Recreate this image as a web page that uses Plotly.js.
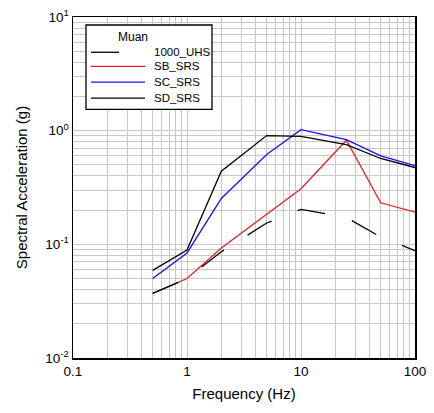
<!DOCTYPE html>
<html><head><meta charset="utf-8">
<script src="https://cdn.plot.ly/plotly-3.0.1.min.js"></script>
<style>html,body{margin:0;padding:0;background:#fff;}#chart{width:434px;height:413px;}</style>
</head><body><div id="chart"></div>
<script>
var freq = [0.5, 1, 2, 5, 10, 25, 50, 100];
var uhs1000 = [0.037, 0.050, 0.086, 0.154, 0.203, 0.172, 0.116, 0.088];
var sbSRS = [0.037, 0.050, 0.093, 0.183, 0.308, 0.824, 0.232, 0.192];
var scSRS = [0.050, 0.084, 0.253, 0.617, 1.02, 0.835, 0.600, 0.493];
var sdSRS = [0.059, 0.089, 0.44, 0.906, 0.89, 0.755, 0.569, 0.474];
var seriesNames = ['1000_UHS', 'SB_SRS', 'SC_SRS', 'SD_SRS'];
var xTickVals = [0.1, 1, 10, 100];
var xTickText = ['0.1', '1', '10', '100'];
var yTickVals = [0.01, 0.1, 1, 10];
var yTickText = ['10<sup>-2</sup>', '10<sup>-1</sup>', '10<sup>0</sup>', '10<sup>1</sup>'];
var legendTitle = 'Muan';

var colors = ['#000000', 'rgb(232,32,40)', 'rgb(20,20,240)', '#000000'];
var dashes = ['28px,28px', 'solid', 'solid', 'solid'];
var ys = [uhs1000, sbSRS, scSRS, sdSRS];
var drawOrder = [1, 2, 3, 0];

var traces = drawOrder.map(function(i){
  return {x: freq, y: ys[i], type: 'scatter', mode: 'lines', name: seriesNames[i],
    line: {color: colors[i], width: 1.3, dash: dashes[i]}, showlegend: false};
});

var FONT = 'Liberation Sans, Arial, sans-serif';
// custom legend (paper coordinates)
var L = 73, T = 17, W = 342, H = 341.5;
function px(x){ return (x - L) / W; }
function py(y){ return (T + H - y) / H; }
var shapes = [{type: 'rect', xref: 'paper', yref: 'paper', x0: px(86), x1: px(212), y0: py(109.5), y1: py(25),
  line: {color: '#000', width: 1.3}, fillcolor: '#fff', layer: 'above'}];
var annotations = [{xref: 'paper', yref: 'paper', x: px(133), y: py(37), text: legendTitle, showarrow: false,
  xanchor: 'center', yanchor: 'middle', font: {family: FONT, size: 12, color: '#000'}}];
var rowY = [52.3, 66.5, 82.3, 98.3];
for (var i = 0; i < 4; i++) {
  shapes.push({type: 'line', xref: 'paper', yref: 'paper', x0: px(91), x1: px(145), y0: py(rowY[i]), y1: py(rowY[i]),
    line: {color: colors[i], width: 1.3, dash: dashes[i]}, layer: 'above'});
  annotations.push({xref: 'paper', yref: 'paper', x: px(151.5), y: py(rowY[i]), text: seriesNames[i], showarrow: false,
    xanchor: 'left', yanchor: 'middle', font: {family: FONT, size: 11.5, color: '#000'}});
}

var axisCommon = {
  type: 'log', showline: true, linecolor: '#000', linewidth: 1.5, mirror: true,
  showgrid: true, gridcolor: '#c8c8c8', gridwidth: 1, ticks: '', zeroline: false,
  minor: {showgrid: true, gridcolor: '#c8c8c8', gridwidth: 1, dtick: 'D1', ticks: ''},
  tickfont: {family: FONT, size: 13.5, color: '#000'}
};
var layout = {
  width: 434, height: 413,
  margin: {l: 73, r: 19, t: 17, b: 54.5},
  paper_bgcolor: '#fff', plot_bgcolor: '#fff',
  showlegend: false,
  xaxis: Object.assign({}, axisCommon, {range: [-1, 2], tickvals: xTickVals, ticktext: xTickText,
    title: {text: 'Frequency (Hz)', font: {family: FONT, size: 15, color: '#000'}, standoff: 11}}),
  yaxis: Object.assign({}, axisCommon, {range: [-2, 1], tickvals: yTickVals, ticktext: yTickText,
    title: {text: 'Spectral Acceleration (g)', font: {family: FONT, size: 15, color: '#000'}, standoff: 14}}),
  shapes: shapes,
  annotations: annotations
};
Plotly.newPlot('chart', traces, layout, {displayModeBar: false, staticPlot: true});
</script></body></html>
